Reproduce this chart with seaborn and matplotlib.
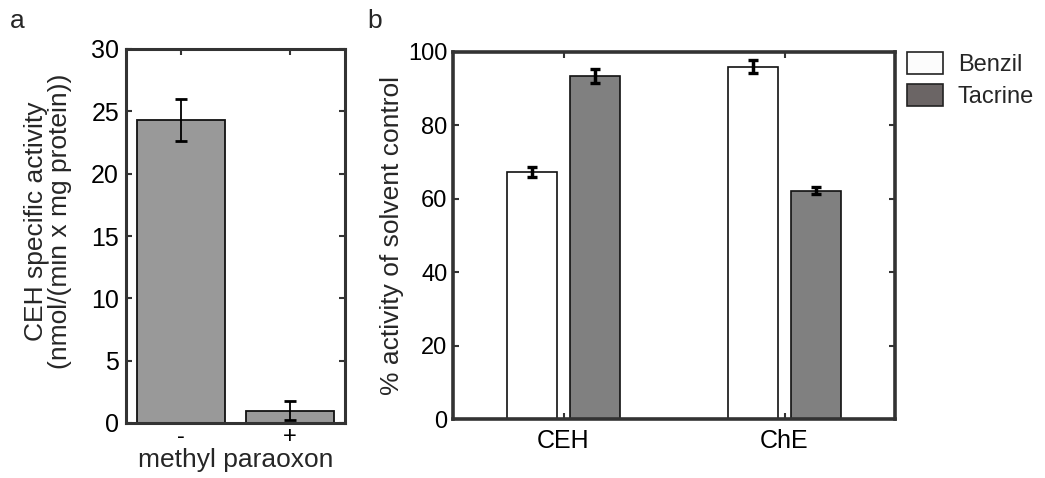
import pandas as pd
import seaborn as sns
import matplotlib.pyplot as plt
from matplotlib.patches import Patch

# === Data ===
treatments = ['-', '+']
ceh_activity = [24.3, 1.0]
ceh_err = [1.7, 0.75]

enzymes = ['CEH', 'ChE']
inhibitors = ['Benzil', 'Tacrine']
benzil_pct = [67.2, 95.9]
tacrine_pct = [93.4, 62.2]
benzil_err = [1.3, 1.8]
tacrine_err = [2.0, 1.0]

# === Style ===
sns.set_style("ticks")
plt.rcParams['font.family'] = ['Liberation Sans', 'DejaVu Sans']
plt.rcParams['xtick.direction'] = 'in'
plt.rcParams['ytick.direction'] = 'in'
spine_color = '#333333'

fig = plt.figure(figsize=(10.45, 4.78), dpi=100)
ax_a = fig.add_axes([126 / 1045, 1 - 423 / 478, 219 / 1045, 374 / 478])
ax_b = fig.add_axes([453 / 1045, 1 - 419 / 478, 442 / 1045, 367.3 / 478])

# === Panel a ===
df_a = pd.DataFrame({'treatment': treatments, 'activity': ceh_activity})
sns.barplot(data=df_a, x='treatment', y='activity', color='#999999',
            width=0.8, edgecolor='#111111', linewidth=1.3, errorbar=None,
            saturation=1, ax=ax_a)
xs = [p.get_x() + p.get_width() / 2 for p in ax_a.containers[0]]
ax_a.errorbar(xs, ceh_activity, yerr=ceh_err, fmt='none', ecolor='black',
              elinewidth=1.3, capsize=4, capthick=2)
ax_a.set_ylim(0, 30)
ax_a.set_xlim(-0.5, 1.5)
ax_a.set_yticks([0, 5, 10, 15, 20, 25, 30])
ax_a.set_xlabel('methyl paraoxon', fontsize=19, labelpad=0)
ax_a.set_ylabel('CEH specific activity\n(nmol/(min x mg protein))', fontsize=19,
                linespacing=1.0)
ax_a.yaxis.set_label_coords(-0.245, 0.54)
ax_a.tick_params(axis='y', labelsize=18, pad=5)
ax_a.tick_params(axis='x', labelsize=17, pad=2)
for s in ax_a.spines.values():
    s.set_linewidth(2.2)

# === Panel b ===
df_b = pd.DataFrame({
    'enzyme': enzymes * 2,
    'inhibitor': [inhibitors[0]] * 2 + [inhibitors[1]] * 2,
    'pct': benzil_pct + tacrine_pct,
})
sns.barplot(data=df_b, x='enzyme', y='pct', hue='inhibitor',
            palette=['white', '#808080'], width=0.57, gap=0.2,
            edgecolor='#111111', linewidth=1.2, errorbar=None,
            saturation=1, legend=False, ax=ax_b)
for cont, vals, errs in zip(ax_b.containers, [benzil_pct, tacrine_pct],
                            [benzil_err, tacrine_err]):
    xs = [p.get_x() + p.get_width() / 2 for p in cont]
    ax_b.errorbar(xs, vals, yerr=errs, fmt='none', ecolor='black',
                  elinewidth=2.5, capsize=3.6, capthick=2.4)
ax_b.set_ylim(0, 100)
ax_b.set_xlim(-0.5, 1.5)
ax_b.set_yticks([0, 20, 40, 60, 80, 100])
ax_b.set_xlabel('')
ax_b.set_ylabel('% activity of solvent control', fontsize=19, labelpad=3)
ax_b.tick_params(axis='y', labelsize=17, pad=4)
ax_b.tick_params(axis='x', labelsize=18, pad=7)
for s in ax_b.spines.values():
    s.set_linewidth(2.6)

handles = [Patch(facecolor='#fcfcfc', edgecolor='#222222', linewidth=1.2),
           Patch(facecolor='#6b6565', edgecolor='#222222', linewidth=1.2)]
fig.legend(handles, inhibitors, loc='upper left',
           bbox_to_anchor=(907 / 1045, 1 - 51.7 / 478), frameon=False,
           fontsize=17, handlelength=1.53, handleheight=1.08,
           labelspacing=0.33, handletextpad=0.62, borderpad=0,
           borderaxespad=0)

for ax in (ax_a, ax_b):
    ax.tick_params(axis='both', which='both', length=4, width=1.5,
                   color=spine_color, top=True, right=True,
                   labelcolor='black')
    for s in ax.spines.values():
        s.set_visible(True)
        s.set_color(spine_color)

fig.text(10 / 1045, 1 - 21 / 478, 'a', fontsize=19, va='center', ha='left')
fig.text(367 / 1045, 1 - 21 / 478, 'b', fontsize=19, va='center', ha='left')

fig.savefig('out.png', dpi=100)
